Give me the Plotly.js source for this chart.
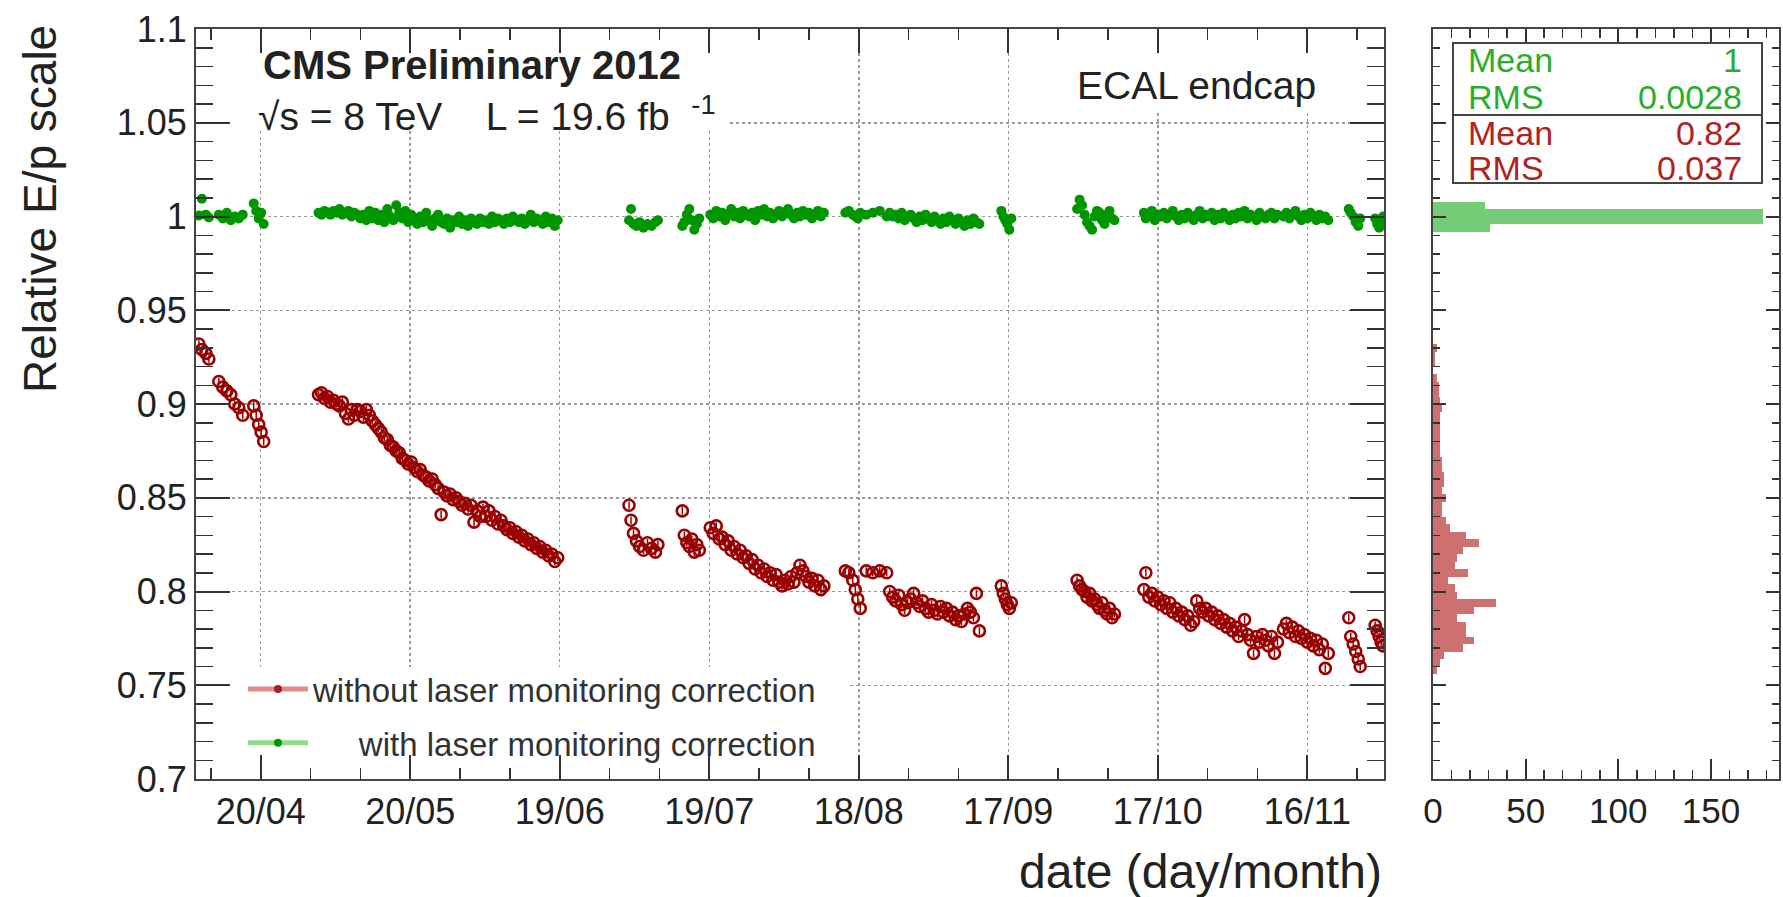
<!DOCTYPE html>
<html><head><meta charset="utf-8">
<script src="https://cdn.plot.ly/plotly-3.0.1.min.js"></script>
<style>html,body{margin:0;padding:0;background:#fff}#chart{width:1783px;height:897px}</style>
</head><body><div id="chart"></div>
<script>
// ---------- data ----------
// run time in days after 2012-04-20
const runDay = [
  -12.4, -11.8, -11.0, -10.4,
  -8.4, -7.6, -6.8, -6.0, -5.2, -4.4, -3.6,
  -1.4, -0.9, -0.4, 0.1, 0.6,
  11.6, 12.2, 12.8, 13.4, 14.0, 14.6, 15.2, 15.8, 16.4, 17.0,
  17.6, 18.2, 18.8, 19.4, 20.0, 20.6, 21.2, 21.8, 22.4, 23.0,
  23.6, 24.2, 24.8, 25.4, 26.0, 26.6, 27.2, 27.8, 28.4, 29.0,
  29.6, 30.2, 30.8, 31.4, 32.0, 32.6, 33.2, 33.8, 34.4, 35.0,
  35.6, 36.2, 36.8, 37.4, 38.0, 38.6, 39.2, 39.8, 40.4, 41.0,
  41.6, 42.2, 42.8, 43.4, 44.0, 44.6, 45.2, 45.8, 46.4, 47.0,
  47.6, 48.2, 48.8, 49.4, 50.0, 50.6, 51.2, 51.8, 52.4, 53.0,
  53.6, 54.2, 54.8, 55.4, 56.0, 56.6, 57.2, 57.8, 58.4, 59.0,
  59.6,
  73.9, 74.3, 74.8, 75.4, 76.0, 76.8, 77.6, 78.4, 79.2, 79.7,
  84.6, 85.0, 85.5, 86.0, 86.5, 87.0, 87.5, 88.0,
  90.2, 90.8, 91.4, 92.0, 92.6, 93.2, 93.8, 94.4, 95.0, 95.6,
  96.2, 96.8, 97.4, 98.0, 98.6, 99.2, 99.8, 100.4, 101.0, 101.6,
  102.2, 102.8, 103.4, 104.0, 104.6, 105.2, 105.8, 106.4, 107.0, 107.6,
  108.2, 108.8, 109.4, 110.0, 110.6, 111.2, 111.8, 112.4, 113.0,
  117.3, 118.0, 118.8, 119.3, 119.8, 120.3, 121.5, 122.8, 124.2, 125.6,
  126.2, 126.8, 127.4, 128.0, 128.6, 129.2, 129.8, 130.4, 131.0, 131.6,
  132.2, 132.8, 133.4, 134.0, 134.6, 135.2, 135.8, 136.4, 137.0, 137.6,
  138.2, 138.8, 139.4, 140.0, 140.6, 141.2, 141.8, 142.4, 143.0, 143.6,
  144.2,
  148.6, 149.0, 149.4, 149.8, 150.2, 150.6,
  163.8, 164.3, 164.8, 165.3, 165.8, 166.3, 166.8, 167.3, 167.8, 168.3,
  168.8, 169.3, 169.8, 170.3, 170.8, 171.3,
  177.2, 177.6, 178.2, 178.8, 179.4, 180.0, 180.6, 181.2, 181.8, 182.4,
  183.0, 183.6, 184.2, 184.8, 185.4, 186.0, 186.6, 187.2, 187.8, 188.4,
  189.0, 189.6, 190.2, 190.8, 191.4, 192.0, 192.6, 193.2, 193.8, 194.4,
  195.0, 195.6, 196.2, 196.8, 197.4, 198.0, 198.6, 199.2, 199.8, 200.4,
  201.0, 201.6, 202.2, 202.8, 203.4, 204.0, 205.2, 205.8, 206.4, 207.0,
  207.6, 208.2, 208.8, 209.4, 210.0, 210.6, 211.2, 211.8, 212.4, 213.0,
  213.6, 214.2,
  218.3, 218.7, 219.2, 219.7, 220.2, 220.6,
  223.6, 224.0, 224.4, 224.8, 225.2
];

// relative E/p without laser monitoring correction
const withoutCorr = [
  0.932, 0.929, 0.927, 0.924,
  0.912, 0.909, 0.907, 0.905, 0.900, 0.898, 0.894,
  0.899, 0.894, 0.889, 0.885, 0.880,
  0.905, 0.906, 0.903, 0.904, 0.901, 0.902, 0.900, 0.899, 0.901, 0.895,
  0.892, 0.897, 0.894, 0.897, 0.896, 0.893, 0.897, 0.894, 0.891, 0.889,
  0.887, 0.885, 0.882, 0.881, 0.878, 0.877, 0.875, 0.874, 0.871, 0.870,
  0.868, 0.869, 0.866, 0.864, 0.865, 0.862, 0.861, 0.859, 0.860, 0.857,
  0.855, 0.841, 0.853, 0.851, 0.852, 0.849, 0.850, 0.848, 0.846, 0.847,
  0.844, 0.846, 0.837, 0.843, 0.840, 0.845, 0.840, 0.843, 0.838, 0.840,
  0.836, 0.838, 0.835, 0.833, 0.834, 0.831, 0.832, 0.829, 0.830, 0.827,
  0.828, 0.825, 0.826, 0.823, 0.824, 0.821, 0.822, 0.819, 0.820, 0.816,
  0.818,
  0.846, 0.838, 0.831, 0.827, 0.824, 0.822, 0.826, 0.823, 0.821, 0.825,
  0.843, 0.830, 0.826, 0.824, 0.828, 0.821, 0.825, 0.822,
  0.834, 0.831, 0.835, 0.828, 0.829, 0.825, 0.827, 0.822, 0.824, 0.820,
  0.822, 0.818, 0.819, 0.815, 0.817, 0.812, 0.814, 0.810, 0.812, 0.808,
  0.810, 0.806, 0.809, 0.805, 0.803, 0.806, 0.804, 0.808, 0.805, 0.810,
  0.814, 0.811, 0.808, 0.805, 0.807, 0.803, 0.806, 0.801, 0.803,
  0.811, 0.810, 0.806, 0.801, 0.796, 0.791, 0.811, 0.810, 0.811, 0.810,
  0.800, 0.797, 0.795, 0.798, 0.793, 0.790, 0.794, 0.796, 0.799, 0.794,
  0.792, 0.795, 0.791, 0.789, 0.793, 0.790, 0.788, 0.792, 0.789, 0.791,
  0.787, 0.789, 0.785, 0.787, 0.784, 0.788, 0.791, 0.789, 0.786, 0.799,
  0.779,
  0.803, 0.799, 0.796, 0.793, 0.791, 0.794,
  0.806, 0.803, 0.801, 0.800, 0.797, 0.799, 0.795, 0.796, 0.793, 0.791,
  0.794, 0.790, 0.788, 0.791, 0.786, 0.788,
  0.801, 0.810, 0.797, 0.799, 0.795, 0.797, 0.793, 0.795, 0.791, 0.794,
  0.789, 0.791, 0.787, 0.789, 0.785, 0.787, 0.782, 0.784, 0.795, 0.791,
  0.789, 0.791, 0.787, 0.789, 0.785, 0.787, 0.783, 0.785, 0.781, 0.783,
  0.779, 0.781, 0.776, 0.779, 0.785, 0.777, 0.774, 0.767, 0.776, 0.773,
  0.777, 0.774, 0.771, 0.776, 0.767, 0.773, 0.780, 0.783, 0.778, 0.781,
  0.776, 0.779, 0.775, 0.777, 0.773, 0.775, 0.771, 0.774, 0.769, 0.772,
  0.759, 0.767,
  0.786, 0.776, 0.772, 0.768, 0.764, 0.760,
  0.782, 0.779, 0.776, 0.773, 0.771
];

// relative E/p with laser monitoring correction
const withCorr = [
  1.0005, 1.0095, 1.001, 0.9995,
  1.001, 0.999, 1.002, 0.998, 1.000, 0.999, 1.001,
  1.007, 1.003, 0.999, 1.002, 0.996,
  1.002, 1.001, 1.003, 1.002, 1.001, 1.003, 1.002, 1.004, 1.001, 1.002,
  1.003, 1.000, 1.002, 1.001, 0.999, 1.001, 0.998, 1.003, 0.999, 1.002,
  0.998, 1.001, 0.997, 1.004, 1.000, 0.998, 1.006, 1.002, 0.999, 1.003,
  0.997, 1.001, 0.998, 0.996, 1.000, 0.997, 1.002, 0.998, 0.995, 0.999,
  1.001, 0.997, 0.996, 0.999, 0.994, 0.998, 0.997, 1.000, 0.996, 0.998,
  0.995, 0.999, 0.997, 0.996, 0.999, 0.997, 0.998, 0.996, 1.000, 0.997,
  0.999, 0.998, 0.996, 0.999, 0.997, 1.000, 0.998, 0.997, 0.999, 0.996,
  0.998, 1.001, 0.997, 0.999, 0.998, 0.996, 1.000, 0.997, 0.999, 0.995,
  0.998,
  0.998, 1.004, 0.996, 0.995, 0.997, 0.994, 0.996, 0.995, 0.997, 0.998,
  0.995, 0.997, 1.001, 1.004, 0.998, 0.993, 0.996, 0.999,
  1.001, 0.999, 1.003, 1.000, 1.002, 0.998, 1.001, 1.004, 1.000, 1.002,
  0.999, 1.003, 1.001, 1.000, 1.002, 0.998, 1.003, 1.001, 1.004, 1.000,
  1.002, 0.999, 1.001, 1.003, 1.000, 1.002, 1.004, 1.001, 0.999, 1.002,
  1.000, 1.003, 1.001, 1.002, 0.999, 1.001, 1.003, 1.000, 1.002,
  1.002, 1.003, 1.001, 1.000, 0.999, 1.002, 1.001, 1.002, 1.003, 1.000,
  1.002, 1.000, 1.001, 0.999, 1.002, 0.998, 1.000, 1.001, 0.999, 0.997,
  1.000, 0.998, 1.001, 0.999, 0.997, 1.000, 0.998, 0.996, 0.999, 0.997,
  1.000, 0.998, 0.996, 0.999, 0.997, 0.995, 0.998, 0.996, 0.999, 0.997,
  0.996,
  1.003, 1.000, 0.998, 0.996, 0.993, 0.999,
  1.004, 1.009, 1.006, 1.001, 0.997, 0.995, 0.993, 1.000, 1.003, 1.002,
  0.998, 0.996, 1.001, 1.003, 0.999, 0.998,
  1.002, 0.999, 1.001, 1.003, 0.998, 1.001, 1.000, 1.002, 0.999, 1.001,
  1.003, 1.000, 0.998, 1.001, 0.999, 1.002, 1.000, 0.998, 1.001, 1.003,
  0.999, 1.001, 1.000, 1.002, 0.998, 1.001, 0.999, 1.002, 1.000, 0.998,
  1.001, 0.999, 1.002, 1.000, 1.003, 0.999, 1.001, 1.000, 0.998, 1.002,
  1.000, 0.999, 1.001, 1.002, 0.999, 1.001, 1.000, 1.002, 0.999, 1.001,
  1.003, 1.000, 0.998, 1.001, 0.999, 1.002, 1.000, 0.998, 1.001, 0.999,
  1.000, 0.998,
  1.004, 1.002, 1.000, 0.997, 0.995, 0.999,
  0.999, 0.996, 0.994, 0.997, 1.000
];

// projection histograms (bin width 0.004)
const greenBins = [0.994, 0.998, 1.002, 1.006];
const greenCounts = [31, 178, 178, 28];
const redBins = [0.758, 0.762, 0.766, 0.770, 0.774, 0.778, 0.782, 0.786, 0.790, 0.794,
  0.798, 0.802, 0.806, 0.810, 0.814, 0.818, 0.822, 0.826, 0.830, 0.834,
  0.838, 0.842, 0.846, 0.850, 0.854, 0.858, 0.862, 0.866, 0.870, 0.874,
  0.878, 0.882, 0.886, 0.890, 0.894, 0.898, 0.902, 0.906, 0.910, 0.914,
  0.918, 0.922, 0.926, 0.930];
const redCounts = [2, 4, 6, 16, 22, 18, 18, 13, 22, 34,
  13, 12, 8, 19, 12, 13, 16, 25, 18, 9,
  7, 5, 5, 7, 5, 6, 6, 5, 5, 4,
  4, 4, 4, 4, 4, 5, 4, 3, 3, 2,
  0, 1, 1, 2];
const HIST_BIN = 0.004;

const statsGreen = {mean: '1', rms: '0.0028'};
const statsRed = {mean: '0.82', rms: '0.037'};

if (runDay.length !== withoutCorr.length || runDay.length !== withCorr.length) {
  throw new Error('length mismatch ' + runDay.length + ' ' + withoutCorr.length + ' ' + withCorr.length);
}
if (redBins.length !== redCounts.length) throw new Error('hist mismatch');

// ---------- drawing ----------
const W = 1783, H = 897, DAY = 86400000;
const T0 = Date.UTC(2012, 3, 20);
const xDates = runDay.map(d => T0 + d * DAY);
const RED = '#990000', GREEN = '#009600';
const FONT = 'Liberation Sans, Arial, Helvetica, sans-serif';
const X_RANGE = ['2012-04-07 00:30', '2012-12-01 09:00'];

const px = v => v / W, py = v => 1 - v / H;
const yDom = [1 - 779 / H, 1 - 29 / H];

const traces = [
  {type: 'scatter', mode: 'markers', x: xDates, y: withoutCorr, xaxis: 'x', yaxis: 'y', showlegend: false,
   marker: {symbol: 'circle-open', size: 11, color: RED, line: {width: 2.6, color: RED}},
   error_y: {type: 'constant', value: 0.002, thickness: 1.5, width: 0, color: RED}},
  {type: 'scatter', mode: 'markers', x: xDates, y: withCorr, xaxis: 'x', yaxis: 'y', showlegend: false,
   marker: {symbol: 'circle', size: 10, color: GREEN},
   error_y: {type: 'constant', value: 0.0018, thickness: 1.5, width: 0, color: GREEN}},
  {type: 'bar', orientation: 'h', y: redBins, x: redCounts, width: HIST_BIN, xaxis: 'x2', yaxis: 'y2',
   showlegend: false, marker: {color: 'rgb(204,112,112)', line: {width: 0}}},
  {type: 'bar', orientation: 'h', y: greenBins, x: greenCounts, width: HIST_BIN, xaxis: 'x2', yaxis: 'y2',
   showlegend: false, marker: {color: 'rgb(118,204,118)', line: {width: 0}}},
  {type: 'scatter', mode: 'lines+markers', x: [null], y: [null], xaxis: 'x', yaxis: 'y',
   name: 'without laser monitoring correction', legendgroup: 'a',
   line: {color: 'rgb(222,140,140)', width: 5}, marker: {color: 'rgb(170,30,30)', size: 8}},
  {type: 'scatter', mode: 'lines+markers', x: [null], y: [null], xaxis: 'x', yaxis: 'y',
   name: '\u00a0\u00a0\u00a0\u00a0\u00a0with laser monitoring correction', legendgroup: 'b',
   line: {color: 'rgb(140,222,140)', width: 5}, marker: {color: 'rgb(0,150,0)', size: 8}}
];

const tickCol = '#333';
const whitePad = (x0, x1, y0, y1) => ({type: 'rect', xref: 'x', yref: 'y', x0: x0, x1: x1, y0: y0, y1: y1,
  layer: 'between', fillcolor: '#fff', line: {width: 0}});

const layout = {
  width: W, height: H, margin: {l: 0, r: 0, t: 0, b: 0},
  paper_bgcolor: '#fff', plot_bgcolor: '#fff',
  font: {family: FONT, color: '#222'},
  barmode: 'overlay', bargap: 0,
  showlegend: true,
  legend: {x: px(243), y: py(661), xanchor: 'left', yanchor: 'top', bgcolor: 'rgba(0,0,0,0)',
    font: {size: 33, color: '#333', family: FONT}, tracegroupgap: 8, itemwidth: 60},
  xaxis: {
    domain: [px(196), px(1384)], anchor: 'y', type: 'date', range: X_RANGE,
    tick0: '2012-04-20', dtick: 30 * DAY, tickformat: '%d/%m',
    ticks: 'inside', ticklen: 24, tickwidth: 2, tickcolor: tickCol,
    minor: {ticks: 'inside', tick0: '2012-04-20', dtick: 10 * DAY, ticklen: 11, tickwidth: 1.5, tickcolor: tickCol, showgrid: false},
    showline: true, linecolor: '#444', linewidth: 2, mirror: 'ticks',
    showgrid: true, gridcolor: '#9a9a9a', griddash: 'dot', gridwidth: 1.5,
    tickfont: {size: 36, color: '#222'}, zeroline: false
  },
  yaxis: {
    domain: yDom, anchor: 'x', range: [0.7, 1.1], tick0: 0.7, dtick: 0.05,
    ticks: 'inside', ticklen: 34, tickwidth: 2, tickcolor: tickCol,
    minor: {ticks: 'inside', dtick: 0.01, ticklen: 17, tickwidth: 1.5, tickcolor: tickCol, showgrid: false},
    showline: true, linecolor: '#444', linewidth: 2, mirror: 'ticks',
    showgrid: true, gridcolor: '#9a9a9a', griddash: 'dot', gridwidth: 1.5,
    tickfont: {size: 36, color: '#222'}, zeroline: false
  },
  xaxis2: {
    domain: [px(1433), px(1779)], anchor: 'y2', range: [0, 186.7], tick0: 0, dtick: 50,
    ticks: 'inside', ticklen: 20, tickwidth: 2, tickcolor: tickCol,
    minor: {ticks: 'inside', dtick: 10, ticklen: 9, tickwidth: 1.5, tickcolor: tickCol, showgrid: false},
    showline: true, linecolor: '#444', linewidth: 2, mirror: 'ticks',
    showgrid: false, zeroline: false, tickfont: {size: 35, color: '#222'}
  },
  yaxis2: {
    domain: yDom, anchor: 'x2', range: [0.7, 1.1], tick0: 0.7, dtick: 0.05,
    ticks: 'inside', ticklen: 13, tickwidth: 2, tickcolor: tickCol,
    minor: {ticks: 'inside', dtick: 0.01, ticklen: 7, tickwidth: 1.5, tickcolor: tickCol, showgrid: false},
    showline: true, linecolor: '#444', linewidth: 2, mirror: 'ticks',
    showgrid: false, zeroline: false, showticklabels: false
  },
  shapes: [
    // white text pads hiding the grid (as ROOT's TPaveText / TLegend do)
    whitePad(X_RANGE[0], '2012-07-23 00:00', 1.0461, 1.1),
    whitePad('2012-09-27 09:00', X_RANGE[1], 1.0568, 1.1),
    whitePad(X_RANGE[0], '2012-08-16 05:00', 0.7117, 0.7597),
    // stats box
    {type: 'rect', xref: 'paper', yref: 'paper', x0: px(1453), x1: px(1762), y0: py(183), y1: py(43), fillcolor: '#fff', line: {color: '#444', width: 2}, layer: 'above'},
    {type: 'line', xref: 'paper', yref: 'paper', x0: px(1453), x1: px(1762), y0: py(115), y1: py(115), line: {color: '#444', width: 2}, layer: 'above'}
  ],
  annotations: [
    {text: 'Relative E/p scale', xref: 'paper', yref: 'paper', x: px(40), y: py(23), xanchor: 'center', yanchor: 'top', textangle: -90, showarrow: false, font: {size: 46, color: '#222'}},
    {text: 'date (day/month)', xref: 'paper', yref: 'paper', x: px(1384), y: py(871), xanchor: 'right', yanchor: 'middle', showarrow: false, font: {size: 48, color: '#222'}},
    {text: '<b>CMS Preliminary 2012</b>', xref: 'paper', yref: 'paper', x: px(261), y: py(65), xanchor: 'left', yanchor: 'middle', showarrow: false, font: {size: 40, color: '#222'}},
    {text: '√s = 8 TeV\u00a0\u00a0\u00a0\u00a0L = 19.6 fb\u00a0\u00a0<sup>-1</sup>', xref: 'paper', yref: 'paper', x: px(256), y: py(113), xanchor: 'left', yanchor: 'middle', showarrow: false, font: {size: 39, color: '#222'}},
    {text: 'ECAL endcap', xref: 'paper', yref: 'paper', x: px(1075), y: py(85), xanchor: 'left', yanchor: 'middle', showarrow: false, font: {size: 39, color: '#222'}},
    {text: 'Mean', xref: 'paper', yref: 'paper', x: px(1466), y: py(60), xanchor: 'left', yanchor: 'middle', showarrow: false, font: {size: 34, color: '#2aae2a'}},
    {text: statsGreen.mean, xref: 'paper', yref: 'paper', x: px(1744), y: py(60), xanchor: 'right', yanchor: 'middle', showarrow: false, font: {size: 34, color: '#2aae2a'}},
    {text: 'RMS', xref: 'paper', yref: 'paper', x: px(1466), y: py(97), xanchor: 'left', yanchor: 'middle', showarrow: false, font: {size: 34, color: '#2aae2a'}},
    {text: statsGreen.rms, xref: 'paper', yref: 'paper', x: px(1744), y: py(97), xanchor: 'right', yanchor: 'middle', showarrow: false, font: {size: 34, color: '#2aae2a'}},
    {text: 'Mean', xref: 'paper', yref: 'paper', x: px(1466), y: py(133), xanchor: 'left', yanchor: 'middle', showarrow: false, font: {size: 34, color: '#b02222'}},
    {text: statsRed.mean, xref: 'paper', yref: 'paper', x: px(1744), y: py(133), xanchor: 'right', yanchor: 'middle', showarrow: false, font: {size: 34, color: '#b02222'}},
    {text: 'RMS', xref: 'paper', yref: 'paper', x: px(1466), y: py(168), xanchor: 'left', yanchor: 'middle', showarrow: false, font: {size: 34, color: '#b02222'}},
    {text: statsRed.rms, xref: 'paper', yref: 'paper', x: px(1744), y: py(168), xanchor: 'right', yanchor: 'middle', showarrow: false, font: {size: 34, color: '#b02222'}}
  ]
};

Plotly.newPlot('chart', traces, layout, {staticPlot: true, displayModeBar: false});
</script></body></html>
